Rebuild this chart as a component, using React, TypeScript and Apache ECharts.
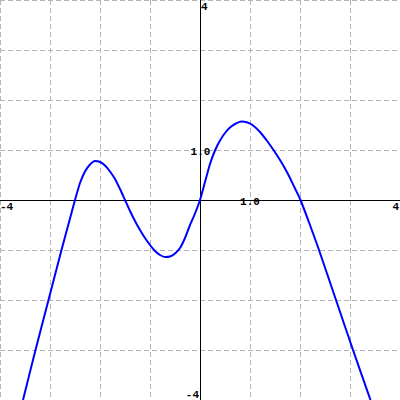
import React, { useEffect, useRef } from "react";
import * as echarts from "echarts";

const xValues = [-3.54, -3.29, -3.03, -2.77, -2.6, -2.5, -2.4, -2.3, -2.2, -2.1, -2.0, -1.9, -1.8, -1.7, -1.6, -1.5, -1.4, -1.3, -1.2, -1.1, -1.0, -0.9, -0.8, -0.7, -0.6, -0.5, -0.4, -0.3, -0.2, -0.1, 0, 0.1, 0.2, 0.3, 0.4, 0.5, 0.6, 0.7, 0.83, 0.95, 1.05, 1.2, 1.35, 1.47, 1.6, 1.7, 1.8, 1.9, 2.01, 2.2, 2.38, 2.72, 3.06, 3.41];
const yValues = [-4, -3, -2, -1, -0.37, 0, 0.34, 0.57, 0.71, 0.78, 0.76, 0.69, 0.57, 0.42, 0.22, 0, -0.22, -0.42, -0.6, -0.76, -0.9, -1.02, -1.1, -1.14, -1.13, -1.07, -0.96, -0.76, -0.5, -0.27, 0, 0.36, 0.72, 0.99, 1.19, 1.34, 1.45, 1.52, 1.57, 1.55, 1.5, 1.36, 1.17, 1.0, 0.8, 0.63, 0.44, 0.23, 0, -0.5, -1, -2, -3, -4];

const tickLabels = ["-4", "4", "-4", "4", "1.0", "1.0"];

export default function App() {
  const ref = useRef<HTMLDivElement>(null);
  useEffect(() => {
    document.body.style.margin = "0";
    const chart = echarts.init(ref.current!, null, { renderer: "svg" });
    const font = { fontFamily: "Liberation Mono", fontWeight: "bold", fontSize: 11, fill: "#000" };
    const labelPos = [
      { x: 0, y: 207, align: "left" },
      { x: 201, y: 7, align: "left" },
      { x: 199, y: 395, align: "right" },
      { x: 399, y: 207, align: "right" },
      { x: 200.5, y: 152, align: "center" },
      { x: 250, y: 201.5, align: "center" },
    ];
    chart.setOption({
      animation: false,
      backgroundColor: "#fff",
      grid: { left: 0, right: 0, top: 0, bottom: 0, containLabel: false },
      xAxis: {
        type: "value", min: -4, max: 4, interval: 1,
        axisLine: { onZero: true, lineStyle: { color: "#000", width: 1 } },
        axisTick: { show: false }, axisLabel: { show: false },
        splitLine: { show: true, lineStyle: { color: "#b4b4b4", type: [5, 3], width: 1 } },
      },
      yAxis: {
        type: "value", min: -4, max: 4, interval: 1,
        axisLine: { onZero: true, lineStyle: { color: "#000", width: 1 } },
        axisTick: { show: false }, axisLabel: { show: false },
        splitLine: { show: true, lineStyle: { color: "#b4b4b4", type: [5, 3], width: 1 } },
      },
      series: [{
        type: "line",
        data: xValues.map((x, i) => [x, yValues[i]]),
        smooth: 0.2,
        showSymbol: false,
        lineStyle: { color: "#0000ff", width: 2 },
        z: 5,
      }],
      graphic: tickLabels.map((t, i) => ({
        type: "text", x: labelPos[i].x, y: labelPos[i].y, z: 10,
        style: { text: t, ...font, textAlign: labelPos[i].align, textVerticalAlign: "middle" },
      })),
    });
    return () => chart.dispose();
  }, []);
  return <div ref={ref} style={{ position: "absolute", left: 0, top: 0, width: 400, height: 400 }} />;
}
